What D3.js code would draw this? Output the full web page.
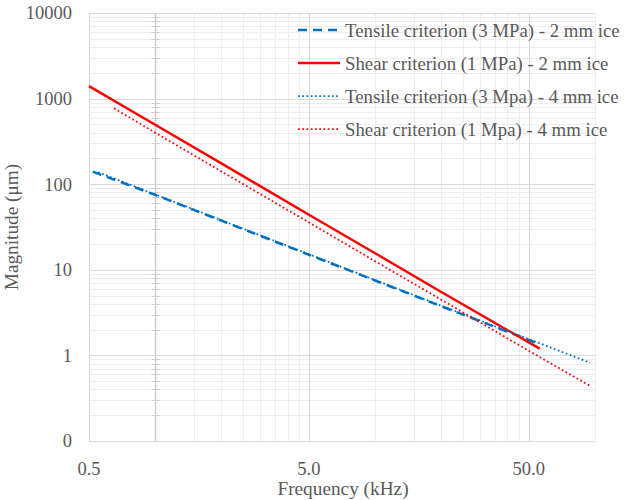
<!DOCTYPE html>
<html>
<head>
<meta charset="utf-8">
<script src="https://cdn.jsdelivr.net/npm/d3@7"></script>
<style>
  body { margin: 0; background: #fff; }
</style>
</head>
<body>
<script>
// values (frequency in kHz, magnitude in um)
var freqTensile2 = [0.52, 1, 2, 5, 10, 20, 55];
var tensile2mm   = [140, 75, 37.5, 15, 7.5, 3.75, 1.38];
var freqShear2   = [0.5, 1, 2, 5, 10, 20, 56];
var shear2mm     = [1400, 495, 175, 44, 15.6, 5.5, 1.2];
var freqTensile4 = [0.55, 1, 2, 5, 10, 20, 50, 95];
var tensile4mm   = [138, 76, 38, 15.2, 7.6, 3.8, 1.55, 0.82];
var freqShear4   = [0.65, 1, 2, 5, 10, 20, 50, 95];
var shear4mm     = [770, 400, 141, 35.8, 12.6, 4.47, 1.13, 0.44];

var seriesNames = [
  "Tensile criterion (3 MPa) - 2 mm ice",
  "Shear criterion (1 MPa) - 2 mm ice",
  "Tensile criterion (3 Mpa) - 4 mm ice",
  "Shear criterion (1 Mpa) - 4 mm ice"
];
var xTicks = [0.5, 5, 50];
var xTickLabels = ["0.5", "5.0", "50.0"];
var yTicks = [0.1, 1, 10, 100, 1000, 10000];
var yTickLabels = ["0", "1", "10", "100", "1000", "10000"];

var blue = "#0070c0", red = "#ff0000";
var styles = [
  {color: blue, width: 2.5, dash: "9,6"},
  {color: red, width: 2.5, dash: null},
  {color: blue, width: 1.75, dash: "1.75,2.5"},
  {color: red, width: 1.75, dash: "1.75,2.5"}
];
var font = "'Liberation Serif', 'Times New Roman', 'DejaVu Serif', serif";

var W = 625, H = 500;
var margin = {top: 13, right: 30, bottom: 59, left: 89},
    width = W - margin.left - margin.right,
    height = H - margin.top - margin.bottom;

var svg = d3.select("body").append("svg")
    .attr("width", W)
    .attr("height", H)
    .attr("font-family", font)
    .style("font-family", font);
var g = svg.append("g")
    .attr("transform", "translate(" + margin.left + "," + margin.top + ")");

var x = d3.scaleLog().domain([0.5, 100]).range([0, width]);
var y = d3.scaleLog().domain([0.1, 10000]).range([height, 0]);

// minor grid values
var yMinor = [];
[0.1, 1, 10, 100, 1000].forEach(function(d) {
  for (var k = 2; k <= 9; k++) yMinor.push(d * k);
});
var xMinor = [];
[0.5, 5, 50].forEach(function(d) {
  for (var k = 2; k <= 9; k++) if (d * k <= 100) xMinor.push(d * k);
});

function px(v) { return Math.round(v) + 0.5; }

// minor gridlines
g.selectAll("line.ymin").data(yMinor).enter().append("line")
    .attr("x1", 0).attr("x2", width)
    .attr("y1", function(d) { return px(y(d)); })
    .attr("y2", function(d) { return px(y(d)); })
    .attr("stroke", "#ededed");
g.selectAll("line.xmin").data(xMinor).enter().append("line")
    .attr("y1", 0).attr("y2", height)
    .attr("x1", function(d) { return px(x(d)); })
    .attr("x2", function(d) { return px(x(d)); })
    .attr("stroke", "#ededed");

// major gridlines
g.selectAll("line.ymaj").data(yTicks).enter().append("line")
    .attr("x1", 0).attr("x2", width)
    .attr("y1", function(d) { return px(y(d)); })
    .attr("y2", function(d) { return px(y(d)); })
    .attr("stroke", "#d9d9d9");
g.selectAll("line.xmaj").data(xTicks).enter().append("line")
    .attr("y1", 0).attr("y2", height)
    .attr("x1", function(d) { return px(x(d)); })
    .attr("x2", function(d) { return px(x(d)); })
    .attr("stroke", "#d9d9d9");

// vertical axis crosses at 1 kHz, with minor cross ticks
var ax = px(x(1));
g.append("line")
    .attr("x1", ax).attr("x2", ax).attr("y1", 0).attr("y2", height)
    .attr("stroke", "#cccccc").attr("stroke-width", 1.5);
g.selectAll("line.ytick").data(yMinor).enter().append("line")
    .attr("x1", ax - 4).attr("x2", ax + 4)
    .attr("y1", function(d) { return px(y(d)); })
    .attr("y2", function(d) { return px(y(d)); })
    .attr("stroke", "#cccccc");

// tick labels
g.selectAll("text.ylab").data(yTicks).enter().append("text")
    .attr("x", -17)
    .attr("y", function(d) { return y(d); })
    .attr("dy", "0.35em")
    .attr("text-anchor", "end")
    .attr("fill", "#595959")
    .style("font-size", "18.5px")
    .text(function(d, i) { return yTickLabels[i]; });
g.selectAll("text.xlab").data(xTicks).enter().append("text")
    .attr("x", function(d) { return x(d); })
    .attr("y", height + 34)
    .attr("text-anchor", "middle")
    .attr("fill", "#595959")
    .style("font-size", "18.5px")
    .text(function(d, i) { return xTickLabels[i]; });

// axis titles
svg.append("text")
    .attr("x", margin.left + width / 2 + 1)
    .attr("y", 495)
    .attr("text-anchor", "middle")
    .attr("fill", "#595959")
    .style("font-size", "19.3px")
    .text("Frequency (kHz)");
svg.append("text")
    .attr("transform", "translate(18," + (margin.top + height / 2) + ") rotate(-90)")
    .attr("text-anchor", "middle")
    .attr("fill", "#595959")
    .style("font-size", "19.3px")
    .text("Magnitude (\u03bcm)");

// series
var series = [
  {f: freqTensile2, v: tensile2mm},
  {f: freqShear2, v: shear2mm},
  {f: freqTensile4, v: tensile4mm},
  {f: freqShear4, v: shear4mm}
];
var line = d3.line()
    .x(function(d) { return x(d[0]); })
    .y(function(d) { return y(d[1]); });

series.forEach(function(s, i) {
  var pts = s.f.map(function(f, j) { return [f, s.v[j]]; });
  g.append("path")
      .attr("d", line(pts))
      .attr("fill", "none")
      .attr("stroke", styles[i].color)
      .attr("stroke-width", styles[i].width)
      .attr("stroke-dasharray", styles[i].dash);
});

// legend
var legend = svg.append("g");
var rowY = [30, 63, 96, 129];
seriesNames.forEach(function(name, i) {
  legend.append("line")
      .attr("x1", 298).attr("x2", 340)
      .attr("y1", rowY[i]).attr("y2", rowY[i])
      .attr("stroke", styles[i].color)
      .attr("stroke-width", styles[i].width)
      .attr("stroke-dasharray", styles[i].dash);
  legend.append("text")
      .attr("x", 345).attr("y", rowY[i])
      .attr("dy", "0.35em")
      .attr("fill", "#595959")
      .style("font-size", "18.8px")
      .text(name);
});
</script>
</body>
</html>
